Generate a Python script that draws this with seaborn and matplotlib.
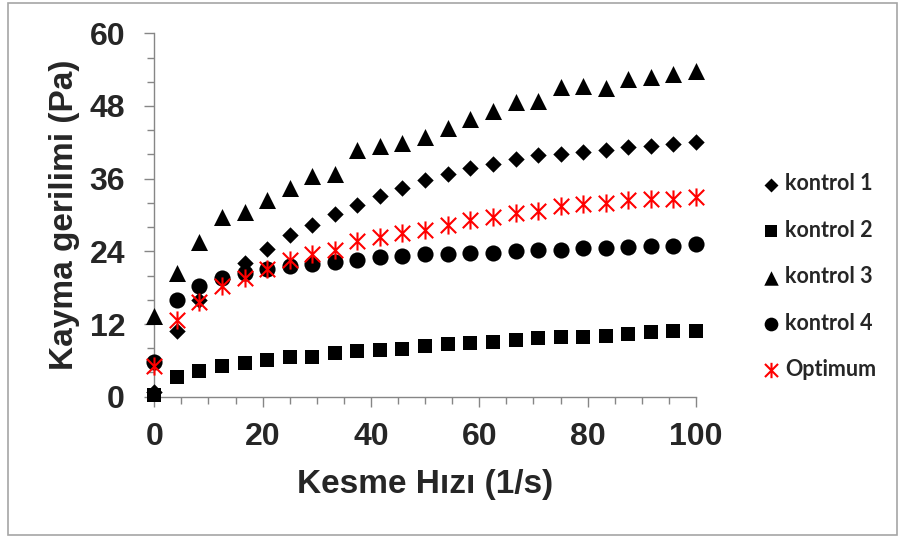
import numpy as np
import pandas as pd
import matplotlib
matplotlib.use("Agg")
import matplotlib.pyplot as plt
from matplotlib.path import Path
from matplotlib.patches import Rectangle
from matplotlib.ticker import MultipleLocator
import seaborn as sns

# veriler
kesme_hizi = [0, 4.2, 8.3, 12.5, 16.7, 20.8, 25, 29.2, 33.3, 37.5, 41.7, 45.8, 50,
              54.2, 58.3, 62.5, 66.7, 70.8, 75, 79.2, 83.3, 87.5, 91.7, 95.8, 100]
kontrol_1 = [0.8, 10.8, 16.0, 19.5, 22.1, 24.4, 26.7, 28.4, 30.2, 31.7, 33.2, 34.5, 35.8,
             36.8, 37.8, 38.4, 39.2, 39.9, 40.1, 40.4, 40.8, 41.3, 41.4, 41.7, 42.1]
kontrol_2 = [0.3, 3.3, 4.3, 5.0, 5.5, 6.0, 6.5, 6.6, 7.2, 7.5, 7.7, 7.9, 8.4,
             8.7, 8.9, 9.1, 9.4, 9.7, 9.8, 9.8, 10.1, 10.4, 10.7, 10.9, 10.9]
kontrol_3 = [13.4, 20.5, 25.5, 29.6, 30.5, 32.5, 34.5, 36.5, 36.8, 40.7, 41.4, 41.9, 42.9,
             44.3, 45.9, 47.2, 48.6, 48.8, 51.1, 51.3, 51.0, 52.5, 52.8, 53.3, 53.7]
kontrol_4 = [5.8, 15.9, 18.2, 19.6, 20.4, 21.0, 21.5, 21.9, 22.2, 22.6, 23.0, 23.2, 23.5,
             23.6, 23.7, 23.8, 24.0, 24.2, 24.3, 24.5, 24.5, 24.7, 24.9, 24.9, 25.2]
optimum = [5.1, 12.6, 15.7, 18.2, 19.6, 21.0, 22.5, 23.6, 24.3, 25.7, 26.4, 27.0, 27.6,
           28.4, 29.1, 29.7, 30.4, 30.6, 31.5, 31.8, 31.9, 32.5, 32.6, 32.7, 33.0]
seriler = ["kontrol 1", "kontrol 2", "kontrol 3", "kontrol 4", "Optimum"]

# yildiz isareti (dikey cizgi + X)
yildiz = Path([(0, -1), (0, 1), (-0.85, -0.85), (0.85, 0.85), (-0.85, 0.85), (0.85, -0.85)],
              [Path.MOVETO, Path.LINETO] * 3)

sns.set_style("ticks")
plt.rcParams["font.family"] = ["Liberation Sans", "DejaVu Sans"]
plt.rcParams["font.weight"] = "bold"

fig = plt.figure(figsize=(8.99, 5.37), dpi=100)
ax = fig.add_axes([0.1716, 0.2613, 0.6026, 0.6767])

stiller = [("D", "black", 70, 0), ("s", "black", 100, 0), ("^", "black", 150, 0),
           ("o", "black", 135, 0), (yildiz, "red", 170, 1.5)]
veriler = [kontrol_1, kontrol_2, kontrol_3, kontrol_4, optimum]

for ad, deger, (isaret, renk, boyut, kalinlik) in zip(seriler, veriler, stiller):
    df = pd.DataFrame({"x": kesme_hizi, "y": deger})
    sns.scatterplot(data=df, x="x", y="y", marker=isaret, color=renk, edgecolor=renk,
                    linewidth=kalinlik, s=boyut, label=ad, clip_on=False, zorder=3, ax=ax)

ax.set_xlim(0, 100)
ax.set_ylim(0, 60)
ax.xaxis.set_major_locator(MultipleLocator(20))
ax.xaxis.set_minor_locator(MultipleLocator(5))
ax.yaxis.set_major_locator(MultipleLocator(12))
ax.yaxis.set_minor_locator(MultipleLocator(4))
sns.despine(ax=ax)
for s in ["left", "bottom"]:
    ax.spines[s].set_color("#868686")
    ax.spines[s].set_linewidth(1)
ax.tick_params(which="major", length=7, width=1, color="#868686", labelsize=23)
ax.tick_params(which="minor", length=5, width=1, color="#868686")
ax.tick_params(axis="x", which="major", pad=11)
ax.tick_params(axis="y", which="major", pad=14)

ax.set_xlabel("Kesme Hızı (1/s)", fontsize=24, fontweight="bold")
ax.set_ylabel("Kayma gerilimi (Pa)", fontsize=24, fontweight="bold")
ax.xaxis.set_label_coords(0.5, -0.199)
ax.yaxis.set_label_coords(-0.138, 0.5)

ax.legend(loc="center left", bbox_to_anchor=(0.849, 0.4847), bbox_transform=fig.transFigure,
          frameon=False, prop={"family": "Lato", "weight": "bold", "size": 15.5},
          handlelength=0.7, handletextpad=0.3, labelspacing=1.18, markerscale=0.85,
          borderpad=0, borderaxespad=0)

fig.add_artist(Rectangle((8 / 899, 2 / 537), 889 / 899, 532 / 537, transform=fig.transFigure,
                         fill=False, edgecolor="#a6a6a6", linewidth=1.2))

fig.savefig("out.png", dpi=100)
